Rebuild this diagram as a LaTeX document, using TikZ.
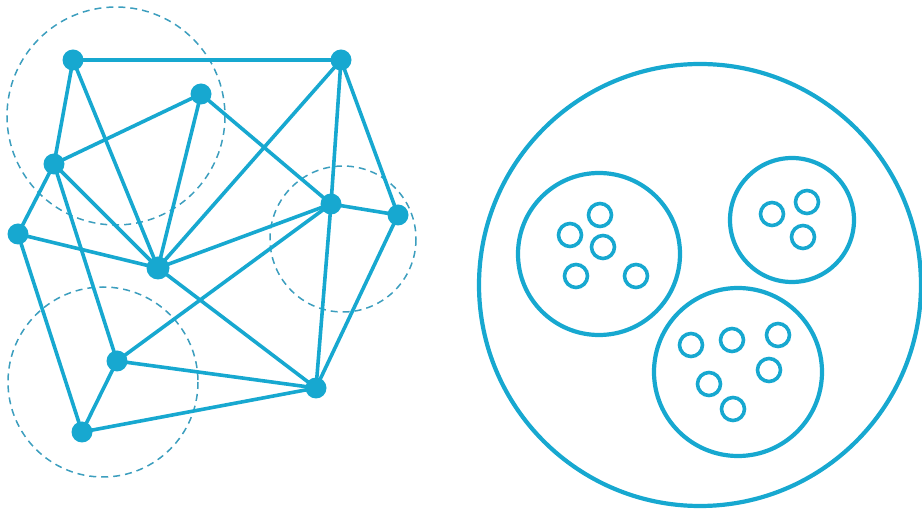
\documentclass[tikz,border=0pt]{standalone}
\definecolor{netblue}{HTML}{17A8D0}
\definecolor{dashblue}{HTML}{3C9EBE}
\tikzset{
  vertex/.style={circle,fill=netblue,inner sep=0pt,minimum size=21pt},
  edge/.style={draw=netblue,line width=3.6pt},
  zone/.style={draw=dashblue,line width=1.5pt,dash pattern=on 7pt off 5pt},
  ring/.style={draw=netblue,line width=4.2pt},
  dot/.style={draw=netblue,line width=3.6pt}
}
\begin{document}
\begin{tikzpicture}[x=1pt,y=-1pt]
\useasboundingbox (0,0) rectangle (922,518);
% dashed zones
\draw[zone] (116,116) circle (109);
\draw[zone] (343,239) circle (73);
\draw[zone] (103,382) circle (95);
% vertices
\node[vertex] (A) at (73,60) {};
\node[vertex] (B) at (341,60) {};
\node[vertex] (C) at (201,94) {};
\node[vertex] (D) at (54,164) {};
\node[vertex] (E) at (18,234) {};
\node[vertex,minimum size=23pt] (F) at (158,268) {};
\node[vertex] (G) at (331,204) {};
\node[vertex] (H) at (398,215) {};
\node[vertex] (I) at (117,361) {};
\node[vertex] (J) at (316,388) {};
\node[vertex] (K) at (82,432) {};
% edges
\foreach \u/\v in {A/B,A/D,A/F,D/C,C/F,C/G,B/F,B/G,B/H,D/E,D/F,D/I,E/F,E/K,F/G,G/H,F/J,G/I,G/J,H/J,I/J,I/K,K/J}
  \draw[edge] (\u.center) -- (\v.center);
% right side
\draw[ring] (700,285) circle (221);
\draw[ring] (599,254) circle (81);
\draw[ring] (792,220) circle (62);
\draw[ring] (738,372) circle (84);
\foreach \p in {(600,215),(570,235),(603,247),(576,276),(636,276),
               (772,214),(807,202),(803,237),
               (691,345),(732,340),(778,335),(769,370),(709,384),(733,409)}
  \draw[dot] \p circle (11.5);
\end{tikzpicture}
\end{document}
